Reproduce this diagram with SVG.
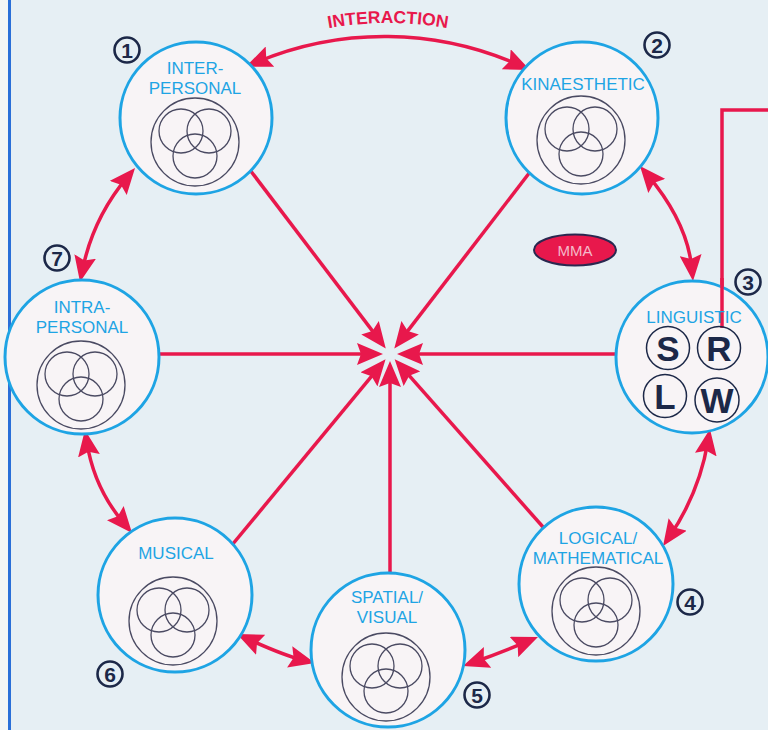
<svg xmlns="http://www.w3.org/2000/svg" width="768" height="730" viewBox="0 0 768 730">
<style>
.node{fill:#f8f4f6;stroke:#1ea4e4;stroke-width:3}
.venn{fill:none;stroke:#4a4a62;stroke-width:1.3}
.lbl{font-family:"Liberation Sans",Arial,sans-serif;font-size:17px;fill:#1ea4e4;text-anchor:middle}
.num circle{fill:none;stroke:#1c2848;stroke-width:2.6}
.num text{font-family:"Liberation Sans",Arial,sans-serif;font-size:21px;font-weight:bold;fill:#1c2848;text-anchor:middle}
.con{fill:none;stroke:#e8184c;stroke-width:3.5}
.sub{fill:none;stroke:#1c2848;stroke-width:1.5}
.let{font-family:"Liberation Sans",Arial,sans-serif;font-size:35px;font-weight:bold;fill:#1c2848;text-anchor:middle}
</style>
<defs>
<marker id="ah" viewBox="0 0 26 22" markerWidth="26" markerHeight="22" refX="14" refY="11" orient="auto-start-reverse" markerUnits="userSpaceOnUse">
<path d="M0,0 L26,11 L0,22 L4,11 z" fill="#e8184c"/>
</marker>
<g id="venn">
<circle class="venn" cx="0" cy="0" r="44"/>
<circle class="venn" cx="-14" cy="-11" r="22"/>
<circle class="venn" cx="14" cy="-11" r="22"/>
<circle class="venn" cx="0" cy="14" r="22"/>
</g>
<path id="tp" d="M288,37.9 A343,343 0 0 1 488,37.9"/>
</defs>
<rect x="0" y="0" width="768" height="730" fill="#e6eff4"/>
<rect x="0" y="0" width="9" height="730" fill="#f3f5f5"/>
<line x1="9.5" y1="0" x2="9.5" y2="730" stroke="#2a6fd8" stroke-width="3"/>

<g id="connectors">
<line class="con" x1="250" y1="170" x2="378.5" y2="338.9" marker-end="url(#ah)"/>
<line class="con" x1="530" y1="172" x2="401.6" y2="338.9" marker-end="url(#ah)"/>
<line class="con" x1="160" y1="354" x2="371" y2="354" marker-end="url(#ah)"/>
<line class="con" x1="615" y1="354" x2="409" y2="354" marker-end="url(#ah)"/>
<line class="con" x1="232" y1="545" x2="377.9" y2="368.6" marker-end="url(#ah)"/>
<line class="con" x1="390" y1="573" x2="390" y2="373" marker-end="url(#ah)"/>
<line class="con" x1="543" y1="527" x2="402.6" y2="368.2" marker-end="url(#ah)"/>
<path class="con" d="M257,62 A331,331 0 0 1 519,65" marker-start="url(#ah)" marker-end="url(#ah)"/>
<path class="con" d="M647.7,175.2 Q687.5,222.5 691.9,269" marker-start="url(#ah)" marker-end="url(#ah)"/>
<path class="con" d="M708,440.8 Q699.5,492.5 669.8,536.1" marker-start="url(#ah)" marker-end="url(#ah)"/>
<path class="con" d="M526.9,641.6 Q498.5,653.5 474.3,662" marker-start="url(#ah)" marker-end="url(#ah)"/>
<path class="con" d="M247.9,639 Q284,655.5 303.3,660.2" marker-start="url(#ah)" marker-end="url(#ah)"/>
<path class="con" d="M86.8,441.9 Q94,488 124.3,523.8" marker-start="url(#ah)" marker-end="url(#ah)"/>
<path class="con" d="M82.4,270.2 Q93,218 127.3,177.2" marker-start="url(#ah)" marker-end="url(#ah)"/>
<polyline class="con" points="768,110 722,110 722,328"/>
</g>

<text font-family="Liberation Sans,Arial,sans-serif" font-size="17.5" font-weight="bold" fill="#e8184c" text-anchor="middle"><textPath href="#tp" startOffset="50%">INTERACTION</textPath></text>

<g id="n1">
<circle class="node" cx="196" cy="118" r="76"/>
<text class="lbl" x="195" y="74">INTER-</text>
<text class="lbl" x="195" y="94">PERSONAL</text>
<use href="#venn" x="195" y="142"/>
</g>
<g id="n2">
<circle class="node" cx="582" cy="118" r="76"/>
<text class="lbl" x="583" y="90">KINAESTHETIC</text>
<use href="#venn" x="581" y="140"/>
</g>
<g id="n3">
<circle class="node" cx="692" cy="357" r="76"/>
<line x1="722" y1="278" x2="722" y2="328" stroke="#e8184c" stroke-width="3.5"/>
<text class="lbl" x="694" y="323">LINGUISTIC</text>
<circle class="sub" cx="668" cy="348" r="21.5"/>
<circle class="sub" cx="719" cy="348" r="21.5"/>
<circle class="sub" cx="665" cy="396" r="21.5"/>
<circle class="sub" cx="717" cy="400" r="22"/>
<text class="let" x="668" y="360.5">S</text>
<text class="let" x="719" y="360.5">R</text>
<text class="let" x="665" y="408.5">L</text>
<text class="let" x="717" y="412.5">W</text>
</g>
<g id="n4">
<circle class="node" cx="596" cy="584" r="77"/>
<text class="lbl" x="598" y="544">LOGICAL/</text>
<text class="lbl" x="598" y="564">MATHEMATICAL</text>
<use href="#venn" x="596" y="611"/>
</g>
<g id="n5">
<circle class="node" cx="388" cy="650" r="77"/>
<text class="lbl" x="387" y="603">SPATIAL/</text>
<text class="lbl" x="387" y="623">VISUAL</text>
<use href="#venn" x="386" y="677"/>
</g>
<g id="n6">
<circle class="node" cx="175" cy="595" r="77"/>
<text class="lbl" x="176" y="559">MUSICAL</text>
<use href="#venn" x="173" y="621"/>
</g>
<g id="n7">
<circle class="node" cx="82" cy="357" r="77"/>
<text class="lbl" x="82" y="313">INTRA-</text>
<text class="lbl" x="82" y="333">PERSONAL</text>
<use href="#venn" x="81" y="385"/>
</g>

<g id="mma">
<ellipse cx="575" cy="250" rx="41" ry="15.5" fill="#e8184c" stroke="#2a2850" stroke-width="2"/>
<text x="575" y="256" font-family="Liberation Sans,Arial,sans-serif" font-size="15" fill="#f4b8c8" text-anchor="middle">MMA</text>
</g>

<g class="num" id="num1"><circle cx="127" cy="50" r="12.5"/><text x="127" y="57.5">1</text></g>
<g class="num" id="num2"><circle cx="657" cy="45" r="12.5"/><text x="657" y="52.5">2</text></g>
<g class="num" id="num3"><circle cx="748" cy="282" r="12.5"/><text x="748" y="289.5">3</text></g>
<g class="num" id="num4"><circle cx="690" cy="602" r="12.5"/><text x="690" y="609.5">4</text></g>
<g class="num" id="num5"><circle cx="477" cy="695" r="12.5"/><text x="477" y="702.5">5</text></g>
<g class="num" id="num6"><circle cx="110" cy="674" r="12.5"/><text x="110" y="681.5">6</text></g>
<g class="num" id="num7"><circle cx="57" cy="258" r="12.5"/><text x="57" y="265.5">7</text></g>
</svg>
